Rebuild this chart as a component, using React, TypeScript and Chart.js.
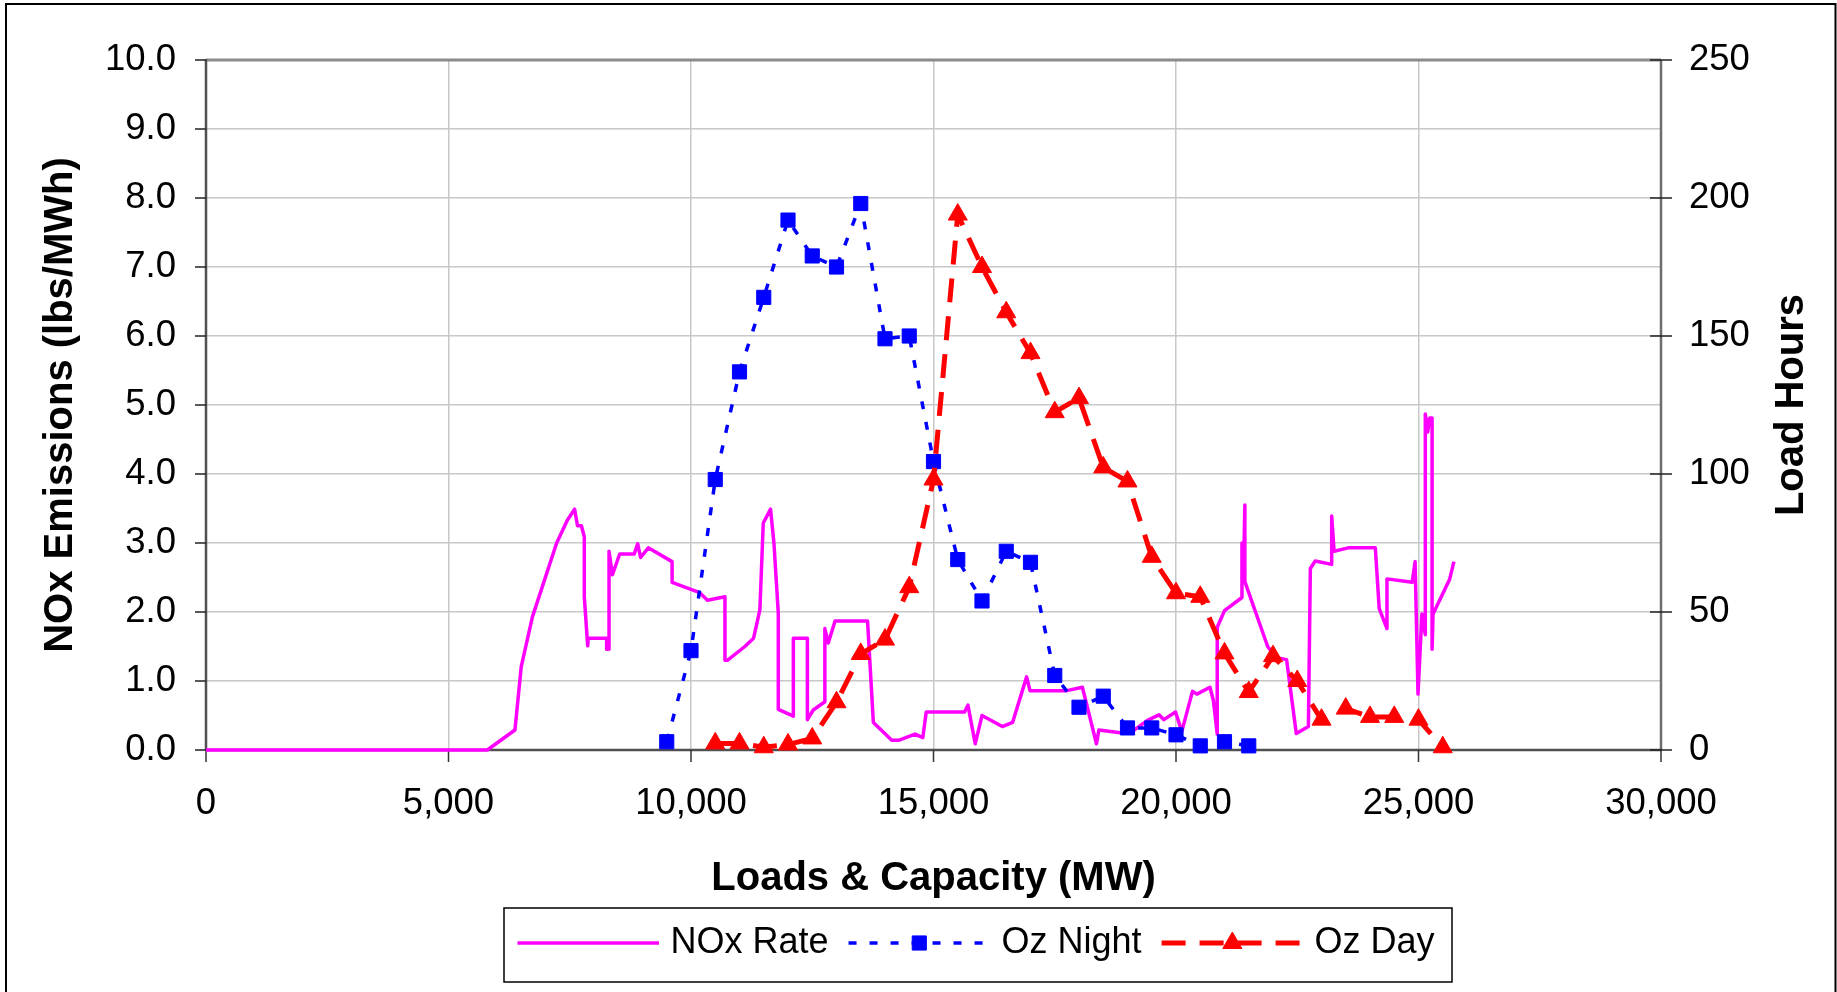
import React, { useEffect, useRef } from 'react';
import { Chart, registerables } from 'chart.js';

Chart.register(...registerables);

const FONT_FAMILY = '"Liberation Sans", Arial, Helvetica, sans-serif';
const W = 1837;
const H = 992;

// NOx emission rate (lbs/MWh) against system load (MW)
const noxLoad = [
  0, 5800, 6370, 6500, 6730, 7230, 7450, 7600, 7660, 7740, 7800, 7800, 7870, 7880, 8260, 8260,
  8310, 8310, 8380, 8530, 8830, 8900, 8960, 9120, 9610, 9610, 10180, 10340, 10700, 10700, 10750,
  11110, 11290, 11420, 11490, 11640, 11710, 11800, 11800, 12110, 12110, 12400, 12400, 12520, 12760,
  12760, 12830, 12970, 13640, 13760, 14140, 14280, 14620, 14780, 14850, 15640, 15710, 15860, 16000,
  16420, 16630, 16920, 16990, 17750, 18070, 18360, 18410, 18850, 19100, 19410, 19650, 19750, 19990,
  20120, 20340, 20430, 20700, 20770, 20850, 20850, 21000, 21360, 21360, 21390, 21420, 21420, 21680,
  21890, 22060, 22280, 22480, 22730, 22770, 22870, 23210, 23210, 23260, 23550, 24110, 24190, 24350,
  24350, 24870, 24930, 24990, 25070, 25140, 25140, 25190, 25230, 25280, 25280, 25300, 25640, 25730,
];
const noxRate = [
  0, 0, 0.29, 1.21, 1.93, 3.0, 3.33, 3.49, 3.25, 3.25, 3.09, 2.22, 1.51, 1.62, 1.62, 1.46,
  1.46, 2.88, 2.54, 2.84, 2.84, 2.99, 2.79, 2.93, 2.73, 2.43, 2.28, 2.17, 2.22, 1.3, 1.3,
  1.5, 1.62, 2.03, 3.29, 3.49, 3.0, 1.98, 0.59, 0.49, 1.62, 1.62, 0.44, 0.58, 0.7,
  1.76, 1.55, 1.87, 1.87, 0.4, 0.14, 0.14, 0.23, 0.18, 0.55, 0.55, 0.65, 0.09, 0.5,
  0.34, 0.4, 1.06, 0.86, 0.86, 0.91, 0.09, 0.29, 0.25, 0.27, 0.43, 0.51, 0.44, 0.55,
  0.27, 0.85, 0.81, 0.91, 0.72, 0.23, 1.78, 2.02, 2.21, 3.0, 2.5, 3.55, 2.44, 1.92,
  1.5, 1.34, 1.31, 0.24, 0.34, 2.63, 2.74, 2.69, 3.39, 2.88, 2.93, 2.93, 2.05, 1.76,
  2.48, 2.43, 2.73, 0.81, 1.97, 1.67, 4.87, 4.61, 4.81, 4.81, 1.46, 1.97, 2.47, 2.73,
];

// Ozone-season load hours, night
const nightLoad = [
  9500, 10000, 10500, 11000, 11500, 12000, 12500, 13000, 13500, 14000, 14500, 15000, 15500,
  16000, 16500, 17000, 17500, 18000, 18500, 19000, 19500, 20000, 20500, 21000, 21500,
];
const nightHours = [
  3, 36, 98, 137, 164, 192, 179, 175, 198, 149, 150, 104.5, 69,
  54, 72, 68, 27, 15.5, 19.5, 8, 8, 5.5, 1.5, 3, 1.5,
];

// Ozone-season load hours, day
const dayLoad = [
  10500, 11000, 11500, 12000, 12500, 13000, 13500, 14000, 14500, 15000, 15500, 16000, 16500,
  17000, 17500, 18000, 18500, 19000, 19500, 20000, 20500, 21000, 21500, 22000, 22500, 23000,
  23500, 24000, 24500, 25000, 25500,
];
const dayHours = [
  2.4, 2.4, 1, 2, 4.2, 17.3, 34.8, 40, 59, 98, 194, 175, 158.6,
  143.8, 122.4, 127.5, 102.4, 97.3, 70, 56.8, 55.5, 35, 21, 34, 25, 11,
  15, 12, 12, 11, 1,
];

const xTickValues = [0, 5000, 10000, 15000, 20000, 25000, 30000];
const leftTickValues = [0, 1, 2, 3, 4, 5, 6, 7, 8, 9, 10];
const rightTickValues = [0, 50, 100, 150, 200, 250];

const GRID_COLOR = '#c8c8c8';

function strokeLine(ctx: CanvasRenderingContext2D, x1: number, y1: number, x2: number, y2: number, color: string, width: number) {
  ctx.beginPath();
  ctx.strokeStyle = color;
  ctx.lineWidth = width;
  ctx.setLineDash([]);
  ctx.moveTo(x1, y1);
  ctx.lineTo(x2, y2);
  ctx.stroke();
}

function drawMarker(ctx: CanvasRenderingContext2D, style: string, x: number, y: number, r: number, color: string) {
  ctx.save();
  ctx.setLineDash([]);
  ctx.fillStyle = color;
  ctx.strokeStyle = color;
  ctx.lineWidth = 1;
  ctx.beginPath();
  if (style === 'rect') {
    const s = r * Math.SQRT1_2;
    ctx.rect(x - s, y - s, 2 * s, 2 * s);
  } else if (style === 'triangle') {
    const a = (2 * Math.PI) / 3;
    ctx.moveTo(x, y - r);
    ctx.lineTo(x + Math.sin(a) * r, y - Math.cos(a) * r);
    ctx.lineTo(x + Math.sin(2 * a) * r, y - Math.cos(2 * a) * r);
    ctx.closePath();
  }
  ctx.fill();
  ctx.stroke();
  ctx.restore();
}

// Plot frame, tick marks, secondary axis title, legend box and chart border
const framePlugin = {
  id: 'excelFrame',
  beforeDatasetsDraw(chart: any) {
    const { ctx, chartArea: a, scales } = chart;
    ctx.save();
    strokeLine(ctx, a.left, a.top, a.right, a.top, '#8c8c8c', 3);
    strokeLine(ctx, a.right, a.top, a.right, a.bottom, '#6e6e6e', 2.5);
    strokeLine(ctx, a.left, a.top - 1, a.left, a.bottom, '#505050', 2.5);
    strokeLine(ctx, a.left, a.bottom, a.right + 1, a.bottom, '#505050', 2.5);
    for (const v of xTickValues) {
      const px = scales.x.getPixelForValue(v);
      strokeLine(ctx, px, a.bottom, px, a.bottom + 12, '#333', 1.5);
    }
    for (const v of leftTickValues) {
      const py = scales.y.getPixelForValue(v);
      strokeLine(ctx, a.left - 11, py, a.left, py, '#222', 1.5);
    }
    for (const v of rightTickValues) {
      const py = scales.y1.getPixelForValue(v);
      strokeLine(ctx, a.right - 11, py, a.right + 11, py, '#222', 1.5);
    }
    ctx.restore();
  },
  afterDraw(chart: any) {
    const { ctx, chartArea: a } = chart;
    ctx.save();

    // secondary axis title, reading bottom to top
    ctx.translate(1791.5, (a.top + a.bottom) / 2);
    ctx.rotate(-Math.PI / 2);
    ctx.fillStyle = '#000';
    ctx.font = `bold 40px ${FONT_FAMILY}`;
    ctx.textAlign = 'center';
    ctx.textBaseline = 'middle';
    ctx.fillText('Load Hours', 0, 0);
    ctx.setTransform(1, 0, 0, 1, 0, 0);

    // legend
    const box = { left: 504, top: 908, right: 1452, bottom: 982 };
    ctx.strokeStyle = '#000';
    ctx.lineWidth = 1.5;
    ctx.setLineDash([]);
    ctx.strokeRect(box.left, box.top, box.right - box.left, box.bottom - box.top);
    ctx.font = `36px ${FONT_FAMILY}`;
    ctx.textAlign = 'left';
    ctx.textBaseline = 'alphabetic';
    const lineY = 943;
    const sample = 141.5;
    let x = box.left + 13.5;
    for (const ds of chart.data.datasets) {
      ctx.save();
      ctx.beginPath();
      ctx.strokeStyle = ds.borderColor;
      ctx.lineWidth = ds.borderWidth;
      ctx.setLineDash(ds.borderDash || []);
      ctx.moveTo(x, lineY);
      ctx.lineTo(x + sample, lineY);
      ctx.stroke();
      ctx.restore();
      if (ds.pointRadius > 0) {
        drawMarker(ctx, ds.pointStyle, x + sample / 2, lineY, ds.pointRadius, ds.borderColor);
      }
      x += sample + 11.5;
      ctx.fillStyle = '#000';
      ctx.fillText(ds.label, x, 953);
      x += ctx.measureText(ds.label).width + 20;
    }

    // chart area border
    ctx.beginPath();
    ctx.strokeStyle = '#000';
    ctx.lineWidth = 2;
    ctx.moveTo(6, H + 10);
    ctx.lineTo(6, 4);
    ctx.lineTo(1835.5, 4);
    ctx.lineTo(1835.5, H + 10);
    ctx.stroke();
    ctx.restore();
  },
};

const tickFont = { size: 36.5, family: FONT_FAMILY };
const titleFont = { size: 40, weight: 'bold' as const, family: FONT_FAMILY };

export default function App() {
  const canvasRef = useRef<HTMLCanvasElement | null>(null);

  useEffect(() => {
    const canvas = canvasRef.current;
    if (!canvas) return;

    const chart = new Chart(canvas, {
      type: 'line',
      data: {
        datasets: [
          {
            label: 'NOx Rate',
            data: noxLoad.map((x, i) => ({ x, y: noxRate[i] })),
            yAxisID: 'y',
            borderColor: '#ff00ff',
            backgroundColor: '#ff00ff',
            borderWidth: 3.5,
            borderJoinStyle: 'round',
            pointRadius: 0,
            fill: false,
            tension: 0,
            clip: false,
            order: 3,
          },
          {
            label: 'Oz Night',
            data: nightLoad.map((x, i) => ({ x, y: nightHours[i] })),
            yAxisID: 'y1',
            borderColor: '#0000ff',
            backgroundColor: '#0000ff',
            borderWidth: 3.5,
            borderDash: [8, 13],
            pointStyle: 'rect',
            pointRadius: 10,
            pointBorderWidth: 1,
            pointBackgroundColor: '#0000ff',
            pointBorderColor: '#0000ff',
            fill: false,
            tension: 0,
            clip: false,
            order: 2,
          },
          {
            label: 'Oz Day',
            data: dayLoad.map((x, i) => ({ x, y: dayHours[i] })),
            yAxisID: 'y1',
            borderColor: '#ff0000',
            backgroundColor: '#ff0000',
            borderWidth: 5,
            borderDash: [24, 14],
            pointStyle: 'triangle',
            pointRadius: 11,
            pointBorderWidth: 1,
            pointBackgroundColor: '#ff0000',
            pointBorderColor: '#ff0000',
            fill: false,
            tension: 0,
            clip: false,
            order: 1,
          },
        ] as any,
      },
      options: {
        animation: false,
        responsive: false,
        devicePixelRatio: 1,
        events: [],
        layout: { padding: { left: 6, right: 2, top: 60, bottom: 89 } },
        plugins: {
          legend: { display: false },
          tooltip: { enabled: false },
          title: { display: false },
        },
        scales: {
          x: {
            type: 'linear',
            position: 'bottom',
            min: 0,
            max: 30000,
            afterBuildTicks: (s: any) => {
              s.ticks = xTickValues.map((value) => ({ value }));
            },
            afterFit: (s: any) => {
              s.height = 153;
            },
            grid: {
              color: (c: any) =>
                c.tick && (c.tick.value === 0 || c.tick.value === 30000) ? 'rgba(0,0,0,0)' : GRID_COLOR,
              lineWidth: 1.5,
              drawTicks: false,
            },
            border: { display: false },
            ticks: {
              padding: 32,
              maxRotation: 0,
              autoSkip: false,
              color: '#000',
              font: tickFont,
              callback: (v: any) => Number(v).toLocaleString('en-US'),
            },
            title: {
              display: true,
              text: 'Loads & Capacity (MW)',
              color: '#000',
              font: titleFont,
              padding: { top: 0, bottom: 0 },
            },
          },
          y: {
            type: 'linear',
            position: 'left',
            min: 0,
            max: 10,
            afterBuildTicks: (s: any) => {
              s.ticks = leftTickValues.map((value) => ({ value }));
            },
            afterFit: (s: any) => {
              s.width = 200;
            },
            grid: {
              color: (c: any) =>
                c.tick && (c.tick.value === 0 || c.tick.value === 10) ? 'rgba(0,0,0,0)' : GRID_COLOR,
              lineWidth: 1.5,
              drawTicks: false,
            },
            border: { display: false },
            ticks: {
              padding: 30,
              color: '#000',
              font: tickFont,
              callback: (v: any) => Number(v).toFixed(1),
            },
            title: {
              display: true,
              text: 'NOx Emissions (lbs/MWh)',
              color: '#000',
              font: titleFont,
              padding: { top: 31, bottom: 0 },
            },
          },
          y1: {
            type: 'linear',
            position: 'right',
            min: 0,
            max: 250,
            afterBuildTicks: (s: any) => {
              s.ticks = rightTickValues.map((value) => ({ value }));
            },
            afterFit: (s: any) => {
              s.width = 174;
            },
            grid: { drawOnChartArea: false, drawTicks: false },
            border: { display: false },
            ticks: {
              padding: 28,
              color: '#000',
              font: tickFont,
              callback: (v: any) => String(v),
            },
          },
        },
      } as any,
      plugins: [framePlugin],
    });

    return () => chart.destroy();
  }, []);

  return (
    <div style={{ position: 'fixed', left: 0, top: 0, width: W, height: H, background: '#ffffff' }}>
      <canvas ref={canvasRef} width={W} height={H} style={{ display: 'block', width: W, height: H }} />
    </div>
  );
}
